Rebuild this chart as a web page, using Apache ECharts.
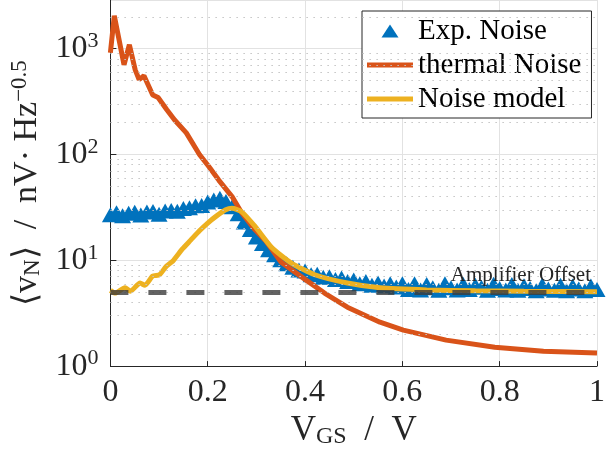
<!DOCTYPE html>
<html><head><meta charset="utf-8">
<script src="https://cdn.jsdelivr.net/npm/echarts@6/dist/echarts.min.js"></script>
<style>html,body{margin:0;padding:0;background:#fff}#c{width:608px;height:454px}</style>
</head><body><div id="c"></div>
<script>
// ---- data ----
const expX = [0.0000,0.0125,0.0250,0.0375,0.0500,0.0625,0.0750,0.0875,0.1000,0.1125,0.1250,0.1375,0.1500,0.1625,0.1750,0.1875,
  0.2000,0.2125,0.2250,0.2375,0.2500,0.2625,0.2750,0.2875,0.3000,0.3125,0.3250,0.3375,0.3500,0.3625,0.3750,0.3875,
  0.4000,0.4125,0.4250,0.4375,0.4500,0.4625,0.4750,0.4875,0.5000,0.5125,0.5250,0.5375,0.5500,0.5625,0.5750,0.5875,
  0.6000,0.6125,0.6250,0.6375,0.6500,0.6625,0.6750,0.6875,0.7000,0.7125,0.7250,0.7375,0.7500,0.7625,0.7750,0.7875,
  0.8000,0.8125,0.8250,0.8375,0.8500,0.8625,0.8750,0.8875,0.9000,0.9125,0.9250,0.9375,0.9500,0.9625,0.9750,0.9875,1.0000];
const expY = [27.0,28.2,26.3,27.8,28.4,26.8,28.6,28.9,27.3,29.2,29.6,29.0,30.8,31.4,32.8,33.0,
  35.6,37.2,38.6,36.0,32.0,27.5,23.0,19.5,16.6,14.4,12.6,11.3,10.1,9.3,8.6,8.1,
  7.9,7.3,7.4,6.9,7.0,6.6,6.8,6.3,6.5,6.0,6.3,5.8,6.1,5.7,6.0,5.6,
  6.0,5.3,6.0,5.25,5.9,5.5,5.2,6.0,5.5,5.25,5.95,5.3,5.8,5.55,5.2,5.95,
  5.4,5.25,5.9,5.2,5.75,5.4,5.15,5.85,5.35,5.2,5.8,5.15,5.7,5.35,5.15,5.7,5.3];
const thermalX = [0,0.008,0.028,0.039,0.051,0.059,0.069,0.087,0.098,0.116,0.132,0.156,0.183,0.203,0.223,0.25,0.27,0.295,0.318,0.351,0.40,0.44,0.46,0.487,0.554,0.602,0.69,0.79,0.89,1.0];
const thermalY = [915,2050,705,1090,630,510,555,365,345,265,212,160,100,76,57,40,28,20,15.5,9.6,6.6,4.9,4.3,3.6,2.6,2.19,1.76,1.51,1.38,1.33];
const modelX = [0,0.010,0.030,0.041,0.061,0.071,0.087,0.101,0.115,0.128,0.148,0.165,0.183,0.200,0.217,0.237,0.250,0.270,0.298,0.331,0.372,0.42,0.487,0.554,0.65,0.75,0.85,1.0];
const modelY = [5.2,4.9,5.5,5.1,6.1,5.8,7.1,7.3,8.8,9.8,12.8,15.5,19,22.5,26,30,31,28.7,20.7,13.3,9.4,7.3,6.1,5.5,5.25,5.15,5.1,5.05];
const amplifierOffset = 5;
const xTickValues = [0,0.2,0.4,0.6,0.8,1];
const yMin = 1, yMax = 2884;
const minorGridValues = [2,3,4,5,6,7,8,9,20,30,40,50,60,70,80,90,200,300,400,500,600,700,800,900,2000];
const seriesNames = ['Exp. Noise','thermal Noise','Noise model'];

// ---- chart ----
const FONT = 'Liberation Serif';
const INK = '#262626';
const zip = (xs, ys) => xs.map((x, i) => [x, ys[i]]);
const tri = 'path://M0,13L8.5,0L17,13Z';
const lineIcon = 'path://M0,0H46V5H0Z';
const chart = echarts.init(document.getElementById('c'));
chart.setOption({
  animation: false,
  backgroundColor: '#fff',
  grid: { left: 110, right: 5, top: 0, bottom: 87 },
  legend: {
    orient: 'vertical', left: 362, top: 11,
    padding: [5, 10, 4, 5], itemGap: 4, itemWidth: 46, itemHeight: 13,
    backgroundColor: '#fff', borderColor: INK, borderWidth: 1, borderRadius: 0,
    textStyle: { fontFamily: FONT, fontSize: 29, color: '#000', lineHeight: 30 },
    data: [{ name: seriesNames[0], icon: tri }, { name: seriesNames[1], icon: lineIcon }, { name: seriesNames[2], icon: lineIcon }],
    selectedMode: false
  },
  xAxis: {
    type: 'value', min: 0, max: 1, interval: 0.2,
    axisLine: { lineStyle: { color: INK, width: 1 } },
    axisTick: { inside: true, length: 5, lineStyle: { color: INK } },
    axisLabel: { fontFamily: FONT, fontSize: 32, color: INK, margin: 10,
      formatter: v => xTickValues.includes(+v.toFixed(2)) ? String(+v.toFixed(1)) : '' },
    splitLine: { show: true, lineStyle: { color: '#e2e2e2', width: 1 } },
    name: '{a|V}{s|GS}{a|  /  V}', nameLocation: 'middle', nameGap: 44,
    nameTextStyle: { fontFamily: FONT, color: INK, rich: {
      a: { fontFamily: FONT, fontSize: 35, color: INK },
      s: { fontFamily: FONT, fontSize: 24, color: INK, padding: [13, 0, 0, 0] } } }
  },
  yAxis: {
    type: 'log', logBase: 10, min: yMin, max: yMax,
    axisLine: { show: true, lineStyle: { color: INK, width: 1 } },
    axisTick: { show: true, inside: true, length: 6, lineStyle: { color: INK } },
    axisLabel: { showMaxLabel: false, margin: 12, fontFamily: FONT, color: INK,
      formatter: v => { const e = Math.log10(v); return Math.abs(e - Math.round(e)) < 1e-6 ? '{b|10}{s|' + Math.round(e) + '}' : ''; },
      rich: { b: { fontFamily: FONT, fontSize: 32, color: INK },
              s: { fontFamily: FONT, fontSize: 22, color: INK, padding: [0, 0, 15, 0] } } },
    splitLine: { show: true, lineStyle: { color: '#e2e2e2', width: 1 } },
    name: '{a|⟨v}{s|N}{a|⟩  /  nV· Hz}{p|−0.5}', nameLocation: 'middle', nameGap: 64,
    nameTextStyle: { fontFamily: FONT, color: INK, rich: {
      a: { fontFamily: FONT, fontSize: 34, color: INK },
      s: { fontFamily: FONT, fontSize: 23, color: INK, padding: [12, 0, 0, 0] },
      p: { fontFamily: FONT, fontSize: 23, color: INK, padding: [0, 0, 15, 0] } } }
  },
  series: [
    { name: 'minor grid', type: 'line', data: [], silent: true, z: 1,
      markLine: { silent: true, symbol: 'none', label: { show: false }, animation: false,
        lineStyle: { color: '#c4c4c4', width: 1, type: [1.5, 5.5] },
        data: minorGridValues.map(v => ({ yAxis: v })) } },
    { name: seriesNames[0], type: 'scatter', data: zip(expX, expY), symbol: tri,
      symbolSize: [17, 15], itemStyle: { color: '#0072BD', opacity: 1 }, z: 2 },
    { name: seriesNames[1], type: 'line', data: zip(thermalX, thermalY), showSymbol: false, symbol: 'none',
      lineStyle: { color: '#D95319', width: 5 }, itemStyle: { color: '#D95319' }, z: 3 },
    { name: seriesNames[2], type: 'line', data: zip(modelX, modelY), showSymbol: false, symbol: 'none', smooth: 0.2,
      lineStyle: { color: '#EDB120', width: 5 }, itemStyle: { color: '#EDB120' }, z: 4 },
    { name: 'Amplifier Offset', type: 'line', data: [], z: 5,
      markLine: { silent: true, symbol: 'none', animation: false,
        lineStyle: { color: 'rgba(60,60,60,0.8)', width: 5, type: [18, 20] },
        label: { show: true, position: 'insideEndTop', formatter: 'Amplifier Offset', distance: 6,
          fontFamily: FONT, fontSize: 21, color: INK },
        data: [{ yAxis: amplifierOffset }] } }
  ]
});
</script></body></html>
